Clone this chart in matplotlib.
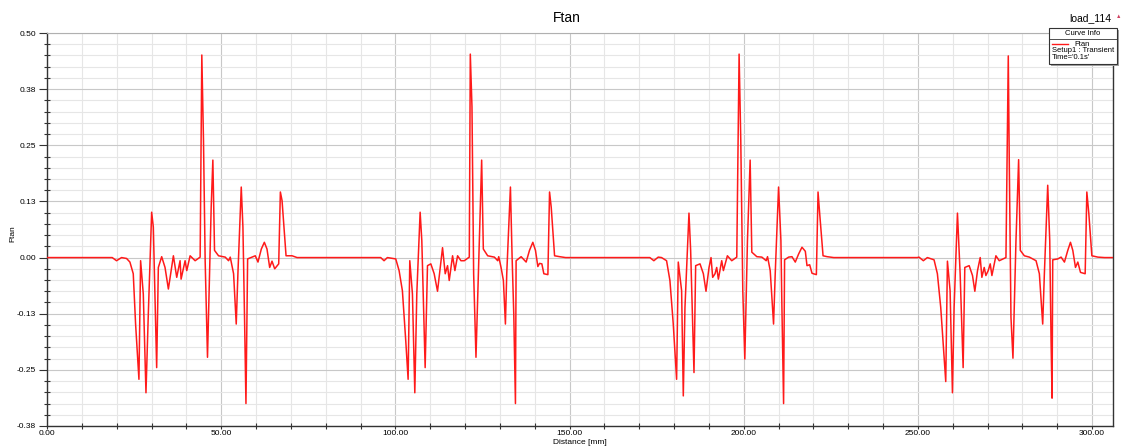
import numpy as np
import matplotlib
matplotlib.use('Agg')
import matplotlib.pyplot as plt
from matplotlib.patches import Rectangle
from matplotlib.lines import Line2D
from matplotlib.ticker import MultipleLocator

plt.rcParams['font.family'] = ['Liberation Sans', 'DejaVu Sans']

# --- data: Distance [mm] vs Ftan, four passes ---
c1_x = [18.72, 19.96, 21.40, 22.84, 23.80, 24.76, 25.43, 26.39, 26.87, 27.64, 28.41, 29.08, 30.04, 30.52,
        31.48, 31.96, 32.92, 33.88, 34.84, 36.28, 37.24, 38.20, 38.49, 39.64, 40.12, 41.08, 42.52, 43.96,
        44.44, 44.92, 45.40, 46.07, 47.13, 47.61, 48.09, 49.24, 51.16, 52.12, 52.60, 53.56, 54.32, 54.80,
        55.76, 56.24, 56.72, 57.11, 57.59, 58.83, 59.79, 60.56, 61.52, 62.39, 63.15, 63.92, 64.59, 65.36,
        66.51, 66.99, 67.47, 68.62, 70.35, 71.79]
c1_y = [0.0, -0.007, 0.0, -0.002, -0.010, -0.036, -0.148, -0.271, -0.007, -0.081, -0.301, -0.126, 0.101, 0.068,
        -0.245, -0.022, 0.002, -0.022, -0.070, 0.004, -0.044, -0.007, -0.048, -0.007, -0.029, 0.004, -0.007, 0.001,
        0.451, 0.261, -0.007, -0.222, 0.112, 0.217, 0.016, 0.004, 0.001, -0.007, 0.001, -0.036, -0.148, -0.036,
        0.157, 0.068, -0.141, -0.325, -0.003, 0.001, 0.004, -0.010, 0.019, 0.034, 0.019, -0.022, -0.008, -0.025,
        -0.014, 0.146, 0.127, 0.004, 0.004, 0.0]

c2_x = [95.79, 96.75, 97.71, 100.11, 101.07, 102.02, 102.98, 103.66, 104.14, 104.90, 105.58, 106.15, 107.11,
        107.59, 108.55, 109.22, 110.18, 111.14, 112.10, 112.87, 113.54, 114.31, 114.98, 115.46, 116.42, 117.09,
        117.86, 118.82, 119.78, 121.22, 121.51, 121.99, 122.47, 123.14, 124.10, 124.77, 125.25, 126.50, 128.42,
        129.38, 129.67, 130.34, 131.01, 131.59, 131.97, 133.03, 133.51, 133.99, 134.47, 134.66, 136.10, 137.54,
        138.50, 139.46, 140.22, 140.90, 141.38, 142.05, 142.62, 143.78, 144.26, 144.74, 145.70, 147.14, 148.86]
c2_y = [0.0, -0.007, 0.0, -0.003, -0.029, -0.074, -0.185, -0.271, -0.007, -0.081, -0.301, -0.081, 0.101,
        0.038, -0.245, -0.018, -0.014, -0.036, -0.075, -0.022, 0.022, -0.036, -0.018, -0.051, 0.004, -0.029,
        0.004, -0.007, -0.007, 0.001, 0.453, 0.336, -0.036, -0.222, 0.038, 0.217, 0.019, 0.004, 0.001,
        -0.007, 0.002, -0.022, -0.051, -0.148, -0.036, 0.157, 0.001, -0.126, -0.325, -0.007, 0.002, -0.010,
        0.016, 0.034, 0.016, -0.020, -0.013, -0.014, -0.036, -0.038, 0.146, 0.112, 0.004, 0.002, 0.0]

c3_x = [173.05, 174.20, 175.45, 176.41, 177.85, 178.81, 179.77, 180.73, 181.21, 182.17, 182.65, 183.13, 184.28,
        184.76, 185.72, 186.20, 187.45, 188.41, 189.17, 190.04, 190.61, 191.09, 191.76, 192.24, 192.72, 193.68,
        194.16, 195.31, 196.56, 198.00, 198.67, 199.15, 199.73, 200.31, 201.07, 201.84, 202.32, 203.76, 205.20,
        206.45, 206.83, 207.60, 208.56, 209.04, 210.00, 210.67, 210.96, 211.44, 211.73, 212.88, 213.84, 214.80,
        215.76, 216.72, 217.68, 218.16, 218.93, 219.60, 220.85, 221.33, 221.81, 222.77, 223.92, 225.84]
c3_y = [0.0, -0.007, 0.001, 0.0, -0.007, -0.051, -0.148, -0.271, -0.010, -0.074, -0.308, -0.111, 0.099,
        0.016, -0.256, -0.018, -0.014, -0.036, -0.075, -0.022, 0.0, -0.044, -0.036, -0.022, -0.048, -0.007,
        -0.029, 0.004, -0.007, 0.001, 0.453, 0.261, -0.074, -0.226, 0.038, 0.217, 0.012, 0.002, 0.001,
        -0.007, 0.002, -0.029, -0.148, -0.036, 0.157, 0.038, -0.111, -0.325, -0.005, 0.001, 0.002, -0.010,
        0.008, 0.023, 0.014, -0.018, -0.016, -0.035, -0.038, 0.146, 0.097, 0.004, 0.002, 0.0]

c4_x = [249.83, 250.31, 251.56, 252.71, 254.63, 255.59, 256.55, 257.99, 258.47, 259.24, 259.91, 260.39, 261.35,
        262.12, 262.98, 263.46, 264.71, 265.67, 266.34, 267.11, 267.88, 268.36, 269.03, 269.51, 270.18, 270.76,
        271.24, 272.39, 273.35, 275.27, 275.94, 276.23, 276.71, 277.28, 278.15, 278.91, 279.39, 280.55, 281.99,
        283.91, 284.86, 285.82, 286.30, 287.26, 287.84, 288.22, 288.51, 288.70, 290.14, 291.10, 292.06, 293.02,
        293.79, 294.46, 295.23, 295.90, 296.67, 298.01, 298.49, 299.07, 299.93, 301.66, 303.58]
c4_y = [0.0, 0.001, -0.007, 0.0, -0.005, -0.036, -0.111, -0.276, -0.008, -0.074, -0.301, -0.111, 0.099,
        -0.036, -0.245, -0.022, -0.018, -0.040, -0.075, -0.029, 0.0, -0.044, -0.022, -0.040, -0.029, -0.014,
        -0.040, 0.004, -0.007, 0.0, 0.449, 0.209, -0.133, -0.224, 0.038, 0.218, 0.016, 0.004, 0.001,
        -0.007, -0.036, -0.148, -0.036, 0.161, 0.038, -0.185, -0.313, -0.005, -0.003, 0.001, -0.010, 0.016,
        0.034, 0.016, -0.022, -0.010, -0.033, -0.036, 0.146, 0.097, 0.004, 0.001, 0.0]

x_start, x_end = 0.0, 306.0
y_ticks = [-0.375, -0.25, -0.125, 0.0, 0.125, 0.25, 0.375, 0.5]
y_ticklabels = ['-0.38', '-0.25', '-0.13', '0.00', '0.13', '0.25', '0.38', '0.50']
x_ticks = [0, 50, 100, 150, 200, 250, 300]
x_ticklabels = ['0.00', '50.00', '100.00', '150.00', '200.00', '250.00', '300.00']

dist = np.concatenate([[x_start], c1_x, c2_x, c3_x, c4_x, [x_end]])
ftan = np.concatenate([[0.0], c1_y, c2_y, c3_y, c4_y, [0.0]])

W, H = 1123, 446
fig = plt.figure(figsize=(W / 100, H / 100), dpi=100)
ax = fig.add_axes([47 / W, 1 - 426 / H, (1113 - 47) / W, (426 - 33) / H])

ax.plot(dist, ftan, color='#ff1a1a', linewidth=1.1, zorder=3)

ax.set_xlim(x_start, x_end)
ax.set_ylim(-0.375, 0.5)
ax.set_xticks(x_ticks)
ax.set_xticklabels(x_ticklabels)
ax.set_yticks(y_ticks)
ax.set_yticklabels(y_ticklabels)
ax.xaxis.set_minor_locator(MultipleLocator(10))
ax.yaxis.set_minor_locator(MultipleLocator(0.025))

ax.grid(which='major', color='#c8c8c8', linewidth=0.8, zorder=0)
ax.grid(which='minor', color='#e6e6e6', linewidth=0.8, zorder=0)
ax.set_axisbelow(True)

ax.tick_params(axis='y', which='major', direction='out', length=6, width=0.8, labelsize=6, colors='#333333',
               labelcolor='black', pad=2)
ax.tick_params(axis='x', which='major', direction='out', length=2, width=0.8, labelsize=6, colors='#333333',
               labelcolor='black', pad=1)
ax.tick_params(which='minor', direction='inout', length=4, width=0.8, colors='#333333')

for s in ['left', 'bottom', 'right']:
    ax.spines[s].set_color('#333333')
    ax.spines[s].set_linewidth(1.0)
ax.spines['top'].set_color('#b0b0b0')

ax.set_xlabel('Distance [mm]', fontsize=6)
ax.xaxis.set_label_coords(0.5, -(443 - 426) / 393)
ax.xaxis.label.set_verticalalignment('center')
ax.set_ylabel('Ftan', fontsize=6)
ax.yaxis.set_label_coords(-(47 - 13) / 1066, 0.49)
ax.yaxis.label.set_verticalalignment('center')

fig.text(567 / W, 1 - 18 / H, 'Ftan', ha='center', va='center', fontsize=10)
fig.text(1090 / W, 1 - 18 / H, 'load_114', ha='center', va='center', fontsize=7.5)
fig.text(1119 / W, 1 - 17 / H, '\u25b2', ha='center', va='center', fontsize=4, color='#d04060')

# curve info box
bx0, bx1, by0, by1 = 1049, 1117, 28, 64
fig.patches.append(Rectangle((bx0 / W + 2 / W, 1 - by1 / H - 2 / H), (bx1 - bx0) / W, (by1 - by0) / H,
                             transform=fig.transFigure, facecolor='#a0a0a0', edgecolor='none', zorder=4))
fig.patches.append(Rectangle((bx0 / W, 1 - by1 / H), (bx1 - bx0) / W, (by1 - by0) / H,
                             transform=fig.transFigure, facecolor='white', edgecolor='#333333',
                             linewidth=0.8, zorder=5))
fig.lines.append(Line2D([bx0 / W, bx1 / W], [1 - 39 / H, 1 - 39 / H], transform=fig.transFigure,
                        color='#333333', linewidth=0.6, zorder=6))
fig.text((bx0 + bx1) / 2 / W, 1 - 33.5 / H, 'Curve Info', ha='center', va='center', fontsize=5.5, zorder=6)
fig.lines.append(Line2D([1052 / W, 1068 / W], [1 - 44 / H, 1 - 44 / H], transform=fig.transFigure,
                        color='#ff1a1a', linewidth=1.0, zorder=6))
fig.text(1074 / W, 1 - 44 / H, 'Ftan', ha='left', va='center', fontsize=5.5, zorder=6)
fig.text(1052 / W, 1 - 51 / H, 'Setup1 : Transient', ha='left', va='center', fontsize=5.5, zorder=6)
fig.text(1052 / W, 1 - 58 / H, "Time='0.1s'", ha='left', va='center', fontsize=5.5, zorder=6)

plt.savefig('out.png', dpi=100)
